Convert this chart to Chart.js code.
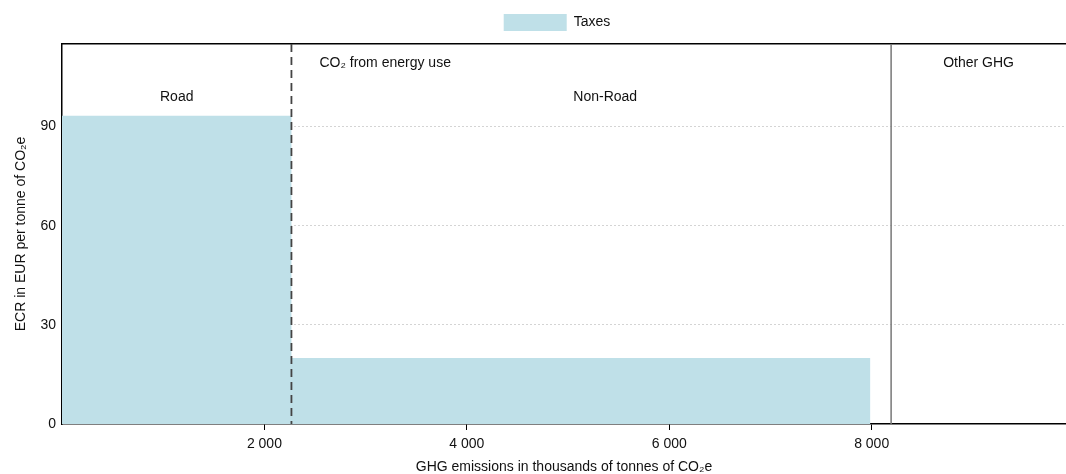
<!DOCTYPE html>
<html>
<head>
<meta charset="utf-8">
<script src="https://cdn.jsdelivr.net/npm/chart.js@4.4.0/dist/chart.umd.min.js"></script>
<style>
  html, body { margin: 0; padding: 0; background: #fff; }
  #wrap { width: 1066px; height: 474px; }
</style>
</head>
<body>
<div id="wrap"><canvas id="ecr"></canvas></div>
<script>
// emissions in thousands of tonnes CO2e, cumulative start of each step
const stepStart = [0, 2267, 7985, 8192];
const stepRate = [93.3, 20.0, 0, 0]; // EUR per tonne
const emissionsTotal = 9920;

const xTicks = [2000, 4000, 6000, 8000];
const yTicks = [0, 30, 60, 90];

// group boundaries and labels
const roadEnd = 2267;      // dashed divider
const energyEnd = 8192;    // solid divider
const groupLabels = ['CO\u2082 from energy use', 'Other GHG'];
const sectorLabels = ['Road', 'Non-Road'];
const nonRoadLabelAt = 5367;

const fontFamily = '"Liberation Sans", Arial, sans-serif';
const fontSize = 14;
const taxColor = '#bfe0e8';

// step outline: hold each rate until the next start
const points = [];
stepStart.forEach((x, i) => {
  const next = i + 1 < stepStart.length ? stepStart[i + 1] : emissionsTotal;
  points.push({ x: x, y: stepRate[i] });
  points.push({ x: next, y: stepRate[i] });
});

const overlay = {
  id: 'overlay',
  afterLayout(chart) {
    // legend sits a bit right of page centre, like the original
    chart.legend.left += 48;
  },
  afterDatasetsDraw(chart) {
    const { ctx, chartArea, scales } = chart;
    const xs = scales.x;
    ctx.save();

    // dashed divider between road / non-road
    const xd = xs.getPixelForValue(roadEnd);
    ctx.strokeStyle = '#444';
    ctx.lineWidth = 1.8;
    ctx.setLineDash([8, 5]);
    ctx.beginPath();
    ctx.moveTo(xd, chartArea.top);
    ctx.lineTo(xd, chartArea.bottom);
    ctx.stroke();

    // solid divider for other GHG
    const xo = xs.getPixelForValue(energyEnd);
    ctx.setLineDash([]);
    ctx.strokeStyle = '#777';
    ctx.lineWidth = 1.5;
    ctx.beginPath();
    ctx.moveTo(xo, chartArea.top);
    ctx.lineTo(xo, chartArea.bottom);
    ctx.stroke();

    // text labels
    ctx.fillStyle = '#111';
    ctx.font = fontSize + 'px ' + fontFamily;
    ctx.textBaseline = 'middle';
    const y1 = chartArea.top + 19;
    const y2 = chartArea.top + 53;

    ctx.textAlign = 'left';
    ctx.fillText(groupLabels[0], xd + 28, y1);
    ctx.textAlign = 'center';
    ctx.fillText(groupLabels[1], xs.getPixelForValue((energyEnd + emissionsTotal) / 2), y1);

    ctx.fillText(sectorLabels[0], xs.getPixelForValue(roadEnd / 2), y2);
    ctx.fillText(sectorLabels[1], xs.getPixelForValue(nonRoadLabelAt), y2);

    ctx.restore();
  }
};

new Chart(document.getElementById('ecr'), {
  type: 'line',
  data: {
    datasets: [{
      label: 'Taxes',
      data: points,
      fill: 'origin',
      backgroundColor: taxColor,
      borderColor: taxColor,
      borderWidth: 0,
      pointRadius: 0
    }]
  },
  options: {
    responsive: true,
    maintainAspectRatio: false,
    animation: false,
    layout: { padding: { top: 2, right: 0, left: 0, bottom: 0 } },
    plugins: {
      legend: {
        position: 'top',
        labels: {
          boxWidth: 63,
          boxHeight: 17,
          padding: 12,
          color: '#111',
          font: { family: fontFamily, size: fontSize }
        }
      },
      tooltip: { enabled: false }
    },
    scales: {
      x: {
        type: 'linear',
        min: 0,
        max: emissionsTotal,
        afterBuildTicks(scale) { scale.ticks = xTicks.map(v => ({ value: v })); },
        afterFit(scale) { scale.height = 50; },
        border: { color: '#000', width: 1.5 },
        grid: { drawOnChartArea: false, drawTicks: true, tickLength: 6, color: '#000' },
        ticks: {
          padding: 6,
          color: '#111',
          font: { family: fontFamily, size: fontSize },
          maxRotation: 0,
          callback: v => String(v).replace(/\B(?=(\d{3})+(?!\d))/g, ' ')
        },
        title: {
          display: true,
          text: 'GHG emissions in thousands of tonnes of CO\u2082e',
          color: '#111',
          font: { family: fontFamily, size: fontSize },
          padding: { top: 0, bottom: -2 }
        }
      },
      // top frame line only
      xTop: {
        type: 'linear',
        position: 'top',
        min: 0,
        max: emissionsTotal,
        afterFit(scale) { scale.height = 3; },
        border: { color: '#000', width: 1.5 },
        grid: { drawOnChartArea: false, drawTicks: false },
        ticks: { display: false }
      },
      y: {
        min: 0,
        max: 115,
        afterBuildTicks(scale) { scale.ticks = yTicks.map(v => ({ value: v })); },
        afterFit(scale) { scale.width = 62; },
        border: { color: '#000', width: 1.5, dash: [1, 3] },
        grid: {
          drawTicks: false,
          color: ctx => ctx.tick.value === 0 ? 'rgba(0,0,0,0)' : '#a8a8a8',
          lineWidth: 1
        },
        ticks: {
          padding: 6,
          color: '#111',
          font: { family: fontFamily, size: fontSize }
        },
        title: {
          display: true,
          text: 'ECR in EUR per tonne of CO\u2082e',
          color: '#111',
          font: { family: fontFamily, size: fontSize },
          padding: { top: 13, bottom: 0 }
        }
      }
    }
  },
  plugins: [overlay]
});
</script>
</body>
</html>
